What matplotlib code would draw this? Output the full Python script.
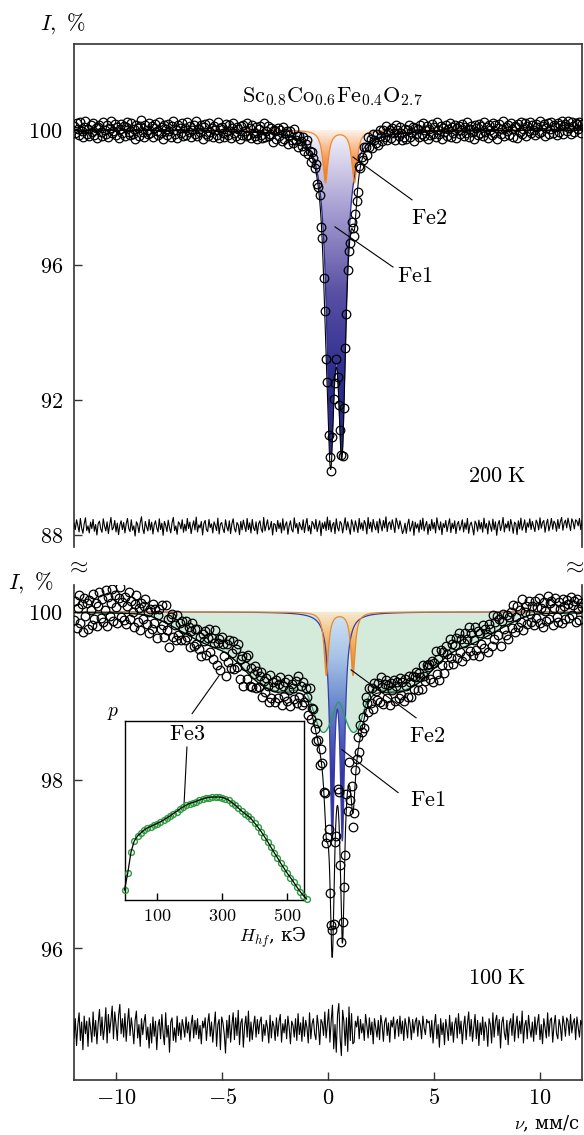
import numpy as np
import matplotlib
matplotlib.use("Agg")
import matplotlib.pyplot as plt
from matplotlib.colors import LinearSegmentedColormap

plt.rcParams['mathtext.fontset'] = 'cm'
plt.rcParams['font.family'] = ['DejaVu Serif']

# ---------------- data ----------------
v_limits = [-12, 12]

# residuals (data - fit), in hundredths of a percent, 200 K
res_200 = [12, -8, 21, 4, -15, 25, -3, -19, 9, 27, -11, 3, -18, 14, -5, 22, -13, 7, -24, 10,
           17, -6, -16, 24, 2, -12, 15, -20, 6, 28, -9, -2, 19, -15, 11, -23, 5, 18, -8, 13,
           -18, 9, 25, -5, -14, 21, -10, 3, -27, 15, 7, -17, 12, 30, -6, -20, 16, 0, -12, 22,
           -9, 14, -21, 6, 18, -3, -15, 24, -8, 11, -25, 16, 4, -14, 20, -2, -18, 12, 28, -11,
           3, -22, 15, 9, -6, 21, -16, 8, -12, 25, -5, 14, -20, 2, 18, -9, 29, -15, 6, -3,
           16, -24, 10, 19, -8, -14, 22, -2, 9, -18, 15, 4, -11, 26, -21, 8, 13, -6, -17, 21,
           0, -12, 18, -20, 9, 24, -5, -15, 13, 6, -23, 16, -9, 20, 3, -14, 25, -8, 12, -18,
           22, -3, -11, 15, -21, 9, 18, -6, -16, 28, -12, 5, 21, -9, -2, 16, -24, 10, 7, -14,
           19, -5, 12, -18, 24, -10, 6, 15, -22, 3, 18, -8, -15, 27, -3, 10, -20, 13, 2, -9,
           21, -17, 8, 25, -12, 4, -21, 16, 9, -6, 22, -14, 3, 18, -26, 12, -5, 15, -11, 29,
           -8, 19, -15, 6, 13, -20, 24, -2, -12, 16, 10, -18, 5, 27, -9, 15, -3, -22, 21, 7,
           -14, 18, 2, -17, 25, -6, 12, -11, 19, 9, -21, 28, -5, 14, -15, 22, 3, -9, 16, -18,
           24, 6, -12, 19, -3, 30, -14, 10, 15, -8, 21, 4, -17, 26, 12, -6, 18, 2, -20, -10,
           11, -19, 7, 23, -13, 1, 17, -25, 14, -4, 9, -16, 20, -7, 26, -12, 5, 16, -22, 8,
           -11, 22, -6, 13, -18, 27, 4, -9, 15, -23, 10, -2, 19, -14, 7, 24, -17, 11, -5, 18,
           -20, 8, 16, -10, 3, 21, -15, 12, -7, 25, -19, 6, 14, -3, -24, 17, 9, -13, 20, -6,
           13, -16, 26, -4, 10, -21, 18, 2, -13, 23, -8, 15, -25, 7, 19, -11, 4, 28, -15, 9,
           -3, 17, -12, 22, 5, -19, 14, 9, -23, 18, -6, 26, -10, 3, 21, -17, 12, -1, 24, -8,
           16, 1, -14, 20, 11, -9, 27, -4, 13, 19, -16, 8, 23, -12, 5, 25, -7, 17, 10, -13,
           22, -5, 15, 28, -10, 12, 20, -3, 26, 8, -11, 24, 14, -6, 21, 17, 3, 25, -8, 19]

# residuals (data - fit), in hundredths of a percent, 100 K
res_100 = [-9, 14, -18, 6, 21, -12, 10, -23, 17, -4, 11, -19, 15, 3, -14, 22, -7, 12, -16, 8,
           25, -6, 16, -11, 4, 27, -15, 19, -3, 12, 29, -10, 22, 7, -12, 18, 31, -4, 14, -8,
           20, -13, 9, 26, -6, 15, 2, -16, 12, 23, -9, 7, -19, 14, -5, 10, 19, -11, 4, -21,
           8, -15, 16, -7, 11, -23, 5, 13, -10, 19, -4, -17, 21, -8, 6, -26, 10, 15, -12, 3,
           -14, 17, -6, 9, -11, 13, 4, -8, 16, -3, 10, -13, 7, 18, -9, 12, -5, 14, -10, 6,
           -16, 11, 3, 15, -12, 8, 20, -7, 10, -14, 5, 22, -19, 7, 13, -23, 16, 9, -4, -27,
           12, -9, 18, -14, 6, 21, -11, 15, -6, 24, -17, 9, 14, -20, 5, 17, -8, 23, -13, 10,
           -11, 6, 17, -8, 13, -4, 10, 16, -13, 7, -6, 12, 3, -15, 18, -9, 11, 5, -12, 15,
           -7, 10, 19, -14, 8, -3, 13, -10, 17, 4, -16, 11, 6, -8, 14, -12, 20, -5, 9, -13,
           16, -7, 12, 3, -15, 21, -10, 8, 14, -4, -11, 18, 5, -17, 13, 9, -6, 22, -9, 7,
           25, -14, 11, 30, -22, 7, -26, 19, 32, -9, -30, 24, 10, -18, 15, -25, 28, -12, 20, -16,
           -14, 11, 4, 17, -10, 13, -3, 8, -12, 19, 6, -9, 15, -5, 10, -16, 14, 3, -8, 12,
           -11, 18, 7, -13, 10, 15, -6, 9, -14, 12, 4, 16, -10, 8, 13, -7, 17, -4, 11, -12,
           14, 5, -9, 16, 8, -11, 13, -3, 10, 15, -7, 12, 6, -10, 17, 3, -5, 13, 9, 11,
           -8, 12, -15, 6, 19, -10, 7, -20, 14, -5, 9, -17, 13, 2, -12, 18, -6, 10, -14, 7,
           15, -9, 20, -4, 11, -16, 5, 17, -11, 8, 22, -7, 13, -13, 4, 19, -10, 12, -18, 9,
           -5, 16, -12, 10, 3, -19, 14, 7, -15, 21, -8, 11, 18, -6, 13, -21, 9, 16, -3, -11,
           12, -17, 8, 14, -6, 20, -13, 5, 17, -9, 11, -4, 23, -15, 6, 12, -10, 18, 2, -8,
           10, -13, 16, -5, 9, 19, -11, 7, -16, 14, 3, -9, 21, -7, 12, 15, -14, 6, 18, -4,
           -10, 13, 5, -12, 17, 8, -7, 15, 11, -6, 19, -3, 9, 14, -11, 16, 4, -8, 12, 7]

# 200 K subspectra (doublets): line positions (mm/s), depths (%), width (mm/s)
fe1_200_pos = [0.12, 0.66]
fe1_200_depth = [8.36, 8.36]
fe1_200_width = 0.45
fe2_200_pos = [-0.12, 1.25]
fe2_200_depth = [1.55, 1.55]
fe2_200_width = 0.30

# 100 K subspectra
fe1_100_pos = [0.20, 0.68]
fe1_100_depth = [2.55, 2.55]
fe1_100_width = 0.26
fe2_100_pos = [-0.08, 1.18]
fe2_100_depth = [0.75, 0.75]
fe2_100_width = 0.25

# Fe3: hyperfine field distribution p(H) (inset)
fe3_H = [0, 10, 20, 30, 40, 50, 60, 70, 80, 90, 100, 110, 120, 130, 140, 150, 160, 170, 180, 190,
         200, 210, 220, 230, 240, 250, 260, 270, 280, 290, 300, 310, 320, 330, 340, 350, 360, 370,
         380, 390, 400, 410, 420, 430, 440, 450, 460, 470, 480, 490, 500, 510, 520, 530, 540, 550, 560]
fe3_p = [10, 27, 48, 59, 64, 67, 70, 72, 73.5, 75, 76.5, 78, 80, 82, 84, 86.5, 88.5, 91, 93, 95,
         96.5, 97.5, 98.5, 100, 101, 102, 102.5, 103, 103, 103, 102.5, 101.5, 100, 97.5, 95, 92,
         89, 86.5, 84, 81, 77, 73, 68.5, 63.5, 58.5, 53, 47.5, 42.5, 37, 32, 27, 22.5, 18, 13,
         8.5, 4.5, 1]
fe3_shift = 0.5
fe3_width = 0.45
fe3_amp = 3.6e-4
sextet_lines = [-5.312, -3.076, -0.840, 0.840, 3.076, 5.312]   # mm/s at 330 kOe
sextet_weights = [3, 2, 1, 1, 2, 3]

x_ticks = [-10, -5, 0, 5, 10]
x_ticklabels = [r'$-10$', r'$-5$', r'$0$', r'$5$', r'$10$']
y_ticks_200 = [88, 92, 96, 100]
y_ticks_100 = [96, 98, 100]
inset_ticks = [100, 300, 500]


# ---------------- model ----------------
def doublet(v, pos, depth, width):
    out = np.zeros_like(v)
    for p, d in zip(pos, depth):
        out += d / (1 + ((v - p) / (width / 2)) ** 2)
    return out


def fe3_model(v):
    out = np.zeros_like(v)
    for H, p in zip(fe3_H, fe3_p):
        for c, w in zip(sextet_lines, sextet_weights):
            out += p * w / (1 + ((v - fe3_shift - c / 330.0 * H) / (fe3_width / 2)) ** 2)
    return fe3_amp * out


vf = np.linspace(v_limits[0], v_limits[1], 3000)
v200 = np.linspace(v_limits[0], v_limits[1], len(res_200))
v100 = np.linspace(v_limits[0], v_limits[1], len(res_100))

W, Hh = 584, 1135
fig = plt.figure(figsize=(W / 100, Hh / 100), dpi=100)


def fx(px):
    return px / W


def fy(py):
    return 1 - py / Hh


ax1 = fig.add_axes([fx(74), fy(547), 508 / W, 503 / Hh])
ax2 = fig.add_axes([fx(74), fy(1080), 508 / W, 495 / Hh])


def grad_fill(ax, x, base, curve, colors, ylo, z):
    poly = ax.fill_between(x, base, curve, facecolor='none', edgecolor='none', zorder=z)
    cmap = LinearSegmentedColormap.from_list('g', colors)
    grad = np.linspace(0, 1, 256).reshape(-1, 1)
    im = ax.imshow(grad, cmap=cmap, extent=[x.min(), x.max(), ylo, 100], origin='lower',
                   aspect='auto', zorder=z, interpolation='bicubic')
    im.set_clip_path(poly.get_paths()[0], transform=ax.transData)


mk = dict(marker='o', ms=6.2, mfc='none', mec='black', mew=0.9, ls='none', zorder=5)

# ---------------- 200 K ----------------
f1 = doublet(vf, fe1_200_pos, fe1_200_depth, fe1_200_width)
f2 = doublet(vf, fe2_200_pos, fe2_200_depth, fe2_200_width)
fit200 = 100 - f1 - f2
grad_fill(ax1, vf, 100, 100 - f1,
          [(0.0, '#28288a'), (0.25, '#2e2e90'), (0.5, '#5a50a4'), (0.75, '#a49cd0'), (1.0, '#f6f4fb')],
          100 - max(f1), 2)
grad_fill(ax1, vf, 100, 100 - f2,
          [(0.0, '#ef6a10'), (0.5, '#f6a060'), (1.0, '#fff3ea')], 100 - max(f2), 3)
ax1.plot(vf, 100 - f1, color='#2c2a8e', lw=0.9, zorder=4)
ax1.plot(vf, 100 - f2, color='#ee8a30', lw=0.9, zorder=4)
d200 = np.interp(v200, vf, fit200) + np.array(res_200) / 100
ax1.plot(v200, d200, **mk)
ax1.plot(vf, fit200, color='black', lw=0.8, zorder=6)
ax1.plot(v200, 88.24 + np.array(res_200) / 100, color='black', lw=0.8, zorder=5)

ax1.set_xlim(*v_limits)
ax1.set_ylim(87.644, 102.548)
ax1.set_yticks(y_ticks_200)
ax1.set_yticklabels([rf'${t}$' for t in y_ticks_200])
ax1.tick_params(axis='x', bottom=False, labelbottom=False)
ax1.spines['bottom'].set_visible(False)

ax1.text(0.2, 101.0, r'$\mathrm{Sc_{0.8}Co_{0.6}Fe_{0.4}O_{2.7}}$', fontsize=16, ha='center', va='center')
ax1.plot([1.18, 3.97], [99.2, 97.93], color='black', lw=0.8, zorder=7)
ax1.text(4.77, 97.39, r'$\mathrm{Fe2}$', fontsize=16, ha='center', va='center')
ax1.plot([0.33, 3.07], [97.13, 95.94], color='black', lw=0.8, zorder=7)
ax1.text(4.11, 95.67, r'$\mathrm{Fe1}$', fontsize=16, ha='center', va='center')
ax1.text(7.98, 89.75, r'$\mathrm{200\ K}$', fontsize=16, ha='center', va='center')

# ---------------- 100 K ----------------
g1 = doublet(vf, fe1_100_pos, fe1_100_depth, fe1_100_width)
g2 = doublet(vf, fe2_100_pos, fe2_100_depth, fe2_100_width)
g3 = fe3_model(vf)
fit100 = 100 - g1 - g2 - g3
ax2.fill_between(vf, 100, 100 - g3, facecolor='#d4ebdc', edgecolor='none', zorder=1)
grad_fill(ax2, vf, 100, 100 - g1,
          [(0.0, '#2e2e96'), (0.3, '#3438a6'), (0.6, '#6a88cc'), (0.8, '#a6c2e6'), (1.0, '#d2e4f4')],
          100 - max(g1), 2)
grad_fill(ax2, vf, 100, 100 - g2,
          [(0.0, '#e8761a'), (0.5, '#eeb060'), (1.0, '#f6ead0')], 100 - max(g2), 3)
ax2.plot(vf, 100 - g1, color='#3a3aa8', lw=0.9, zorder=4)
ax2.plot(vf, 100 - g2, color='#e88a30', lw=0.9, zorder=4)
ax2.plot(vf, 100 - g3, color='#2e9a66', lw=1.0, zorder=4)
d100 = np.interp(v100, vf, fit100) + np.array(res_100) / 100
ax2.plot(v100, d100, **mk)
ax2.plot(vf, fit100, color='black', lw=0.8, zorder=6)
ax2.plot(v100, 95.02 + np.array(res_100) / 100, color='black', lw=0.8, zorder=5)

ax2.set_xlim(*v_limits)
ax2.set_ylim(94.43, 100.32)
ax2.set_yticks(y_ticks_100)
ax2.set_yticklabels([rf'${t}$' for t in y_ticks_100])
ax2.set_xticks(x_ticks)
ax2.set_xticklabels(x_ticklabels)
ax2.spines['top'].set_visible(False)

ax2.plot([1.09, 4.16], [99.31, 98.74], color='black', lw=0.8, zorder=7)
ax2.text(4.68, 98.52, r'$\mathrm{Fe2}$', fontsize=16, ha='center', va='center')
ax2.plot([0.66, 3.31], [98.36, 97.85], color='black', lw=0.8, zorder=7)
ax2.text(4.72, 97.76, r'$\mathrm{Fe1}$', fontsize=16, ha='center', va='center')
ax2.plot([-6.42, -5.15], [98.79, 99.24], color='black', lw=0.8, zorder=7)
ax2.text(7.98, 95.64, r'$\mathrm{100\ K}$', fontsize=16, ha='center', va='center')

for ax in (ax1, ax2):
    for s in ax.spines.values():
        s.set_color('#333333')
        s.set_linewidth(1.2)
    ax.tick_params(direction='in', length=6, width=1, labelsize=16, pad=8, color='#333333')
ax2.tick_params(axis='x', pad=5)

# ---------------- inset ----------------
axi = fig.add_axes([fx(124.5), fy(900), 179.5 / W, 179 / Hh])
axi.set_facecolor('white')
axi.plot(fe3_H, fe3_p, marker='o', ms=4.2, mfc='none', mec='#2a9a3a', mew=1.0, ls='none',
         clip_on=False, zorder=3)
axi.plot(fe3_H, fe3_p, color='black', lw=0.9, clip_on=False, zorder=4)
axi.set_xlim(0, 552)
axi.set_ylim(0, 179)
axi.set_yticks([])
axi.set_xticks(inset_ticks)
axi.set_xticklabels([rf'${t}$' for t in inset_ticks])
axi.tick_params(axis='x', direction='in', length=5, width=1, labelsize=13, pad=5)
for s in axi.spines.values():
    s.set_linewidth(1.0)
axi.plot([192, 183], [153, 95], color='black', lw=0.8)
axi.text(192, 166, r'$\mathrm{Fe3}$', fontsize=16, ha='center', va='center')

# ---------------- figure texts ----------------
fig.text(fx(63), fy(24), r'$I,\ \%$', fontsize=16, ha='center', va='center')
fig.text(fx(31), fy(583), r'$I,\ \%$', fontsize=16, ha='center', va='center')
fig.text(fx(77), fy(566), r'$\approx$', fontsize=17, ha='center', va='center')
fig.text(fx(573), fy(566), r'$\approx$', fontsize=17, ha='center', va='center')
fig.text(fx(580), fy(1124), r'$\nu$, мм/с', fontsize=13, ha='right', va='center')
fig.text(fx(113), fy(713), r'$p$', fontsize=14, ha='center', va='center')
fig.text(fx(273), fy(938), r'$H_{hf}$, кЭ', fontsize=13, ha='center', va='center')

fig.savefig('out.png', dpi=100)
